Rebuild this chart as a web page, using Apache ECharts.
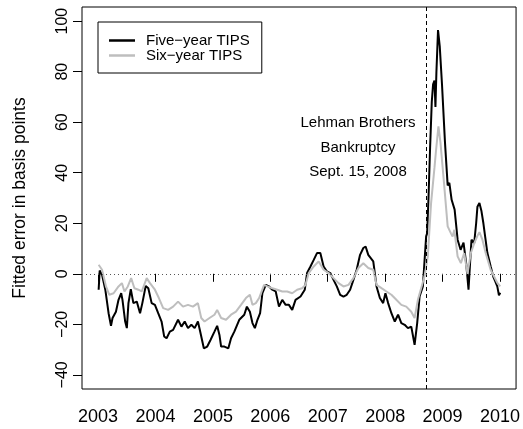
<!DOCTYPE html>
<html>
<head>
<meta charset="utf-8">
<script src="https://cdn.jsdelivr.net/npm/echarts@6/dist/echarts.min.js"></script>
<style>
  html, body { margin: 0; padding: 0; background: #fff; }
  #chart { width: 523px; height: 429px; }
</style>
</head>
<body>
<div id="chart"></div>
<script>
// dates are decimal years
var fiveYearDates = [
  2003.010, 2003.028, 2003.069, 2003.126, 2003.183, 2003.225, 2003.252, 2003.311, 2003.356, 2003.403,
  2003.425, 2003.472, 2003.501, 2003.529, 2003.570, 2003.615, 2003.674, 2003.731, 2003.771, 2003.830,
  2003.875, 2003.933, 2003.990, 2004.047, 2004.106, 2004.151, 2004.193, 2004.250, 2004.307, 2004.393,
  2004.452, 2004.509, 2004.566, 2004.625, 2004.682, 2004.739, 2004.785, 2004.842, 2004.901, 2004.958,
  2005.027, 2005.074, 2005.114, 2005.143, 2005.200, 2005.269, 2005.316, 2005.373, 2005.459, 2005.546,
  2005.592, 2005.644, 2005.689, 2005.731, 2005.776, 2005.822, 2005.862, 2005.921, 2005.978, 2006.035,
  2006.094, 2006.151, 2006.208, 2006.267, 2006.324, 2006.381, 2006.439, 2006.526, 2006.600, 2006.640,
  2006.699, 2006.756, 2006.813, 2006.871, 2006.928, 2006.986, 2007.044, 2007.101, 2007.158, 2007.217,
  2007.274, 2007.331, 2007.390, 2007.447, 2007.504, 2007.563, 2007.620, 2007.660, 2007.706, 2007.793,
  2007.850, 2007.908, 2007.965, 2008.005, 2008.052, 2008.109, 2008.168, 2008.225, 2008.282, 2008.340,
  2008.397, 2008.455, 2008.513, 2008.558, 2008.600, 2008.657, 2008.714, 2008.731, 2008.755, 2008.783,
  2008.812, 2008.835, 2008.859, 2008.876, 2008.893, 2008.921, 2008.951, 2008.990, 2009.042, 2009.089,
  2009.118, 2009.158, 2009.210, 2009.262, 2009.314, 2009.365, 2009.412, 2009.452, 2009.481, 2009.504,
  2009.550, 2009.585, 2009.607, 2009.642, 2009.676, 2009.711, 2009.746, 2009.780, 2009.837, 2009.884,
  2009.918, 2009.953, 2009.982, 2010.005
]
var fiveYearValues = [
  -6.3, 1.3, -0.4, -6.3, -15.6, -20.6, -17.5, -15, -10.3, -7.7,
  -10.3, -18.9, -21.5, -11.6, -6.1, -11.6, -11, -15.6, -11.6, -4.8,
  -5.7, -11.6, -12.3, -15.6, -18.9, -24.8, -25.5, -22.9, -22.2, -18.2,
  -20.9, -18.9, -21.5, -20.2, -21.5, -18.9, -23.5, -29.5, -28.8, -26.2,
  -22.9, -20.6, -24.2, -28.8, -28.8, -29.5, -25.5, -22.9, -18.2, -16.2,
  -13, -15, -19.5, -21.5, -18.2, -15.6, -7.7, -4.4, -5, -6.3,
  -7, -13, -10.3, -12.3, -12.3, -14.3, -10.3, -9, -6.3, 0.3,
  2.9, 5.5, 8.2, 8.2, 2.9, 0.9, 0.3, -2.4, -5, -8.3,
  -9, -8.3, -6.3, -2.4, 1.6, 7.5, 10.2, 10.8, 7.5, 4.9,
  -5, -9.6, -11.6, -7.7, -11.6, -15.6, -18.9, -16.2, -19.5, -20.2,
  -21.5, -20.9, -28.1, -19.5, -9, -5, 14.8, 16, 30, 50,
  68, 75, 76.5, 66, 80, 96.5, 90, 75, 52, 35,
  36, 29.3, 25.4, 13.5, 9.5, 12.3, 4, -6.3, 5, 13.5,
  12, 20, 26.5, 28, 25, 20, 14, 8.3, 3, -1.2,
  -3, -5, -8.5, -7.5
]

var sixYearDates = [
  2003.010, 2003.069, 2003.138, 2003.195, 2003.270, 2003.356, 2003.415, 2003.460, 2003.518, 2003.576,
  2003.633, 2003.702, 2003.760, 2003.847, 2003.904, 2003.990, 2004.059, 2004.134, 2004.220, 2004.307,
  2004.393, 2004.479, 2004.566, 2004.652, 2004.739, 2004.797, 2004.854, 2004.941, 2005.027, 2005.074,
  2005.143, 2005.229, 2005.316, 2005.402, 2005.489, 2005.575, 2005.644, 2005.689, 2005.748, 2005.805,
  2005.891, 2005.949, 2006.035, 2006.121, 2006.208, 2006.294, 2006.381, 2006.467, 2006.553, 2006.612,
  2006.669, 2006.756, 2006.842, 2006.928, 2007.015, 2007.101, 2007.188, 2007.274, 2007.361, 2007.447,
  2007.534, 2007.620, 2007.706, 2007.793, 2007.850, 2007.936, 2008.023, 2008.109, 2008.195, 2008.282,
  2008.368, 2008.455, 2008.513, 2008.570, 2008.627, 2008.686, 2008.743, 2008.800, 2008.859, 2008.887,
  2008.928, 2008.963, 2009.020, 2009.089, 2009.146, 2009.175, 2009.205, 2009.262, 2009.319, 2009.377,
  2009.434, 2009.492, 2009.550, 2009.607, 2009.642, 2009.694, 2009.751, 2009.837, 2009.896, 2009.953,
  2010.005
]
var sixYearValues = [
  3.6, 1.6, -5, -8.3, -7.7, -5, -3.7, -7, -5, -1.7,
  -5.7, -6.3, -7, -1.7, -3.7, -6.3, -9.6, -13.6, -14.3, -13,
  -11, -13, -12.3, -13, -11.6, -17.5, -18.9, -17.5, -16.2, -14.3,
  -17.5, -18.2, -16.2, -15, -12.3, -9.6, -8.3, -12.3, -11.6, -9.6,
  -4.4, -5, -5.7, -6.3, -7, -7, -7.7, -6.3, -5.7, -4.4,
  0.3, 2.9, 4.9, 1.6, 0.3, -1.7, -3.7, -5, -4.4, -1.7,
  2.3, 4.2, 2.3, 1.6, -4.4, -5.7, -7, -8.3, -10.3, -12.3,
  -13, -15, -17.5, -10.3, -5.7, -1, 6.9, 28, 42, 49,
  58.4, 52, 37.3, 18.8, 16, 14.8, 17.4, 6.9, 4.2, 8.2,
  0, 8.2, 12, 15, 16.5, 13.5, 8.2, 1.6, -1, -3.6,
  -5
]

var yearTicks = [2003, 2004, 2005, 2006, 2007, 2008, 2009, 2010]
var errorTicks = [-40, -20, 0, 20, 40, 60, 80, 100]
var lehmanDate = 2008.707
var seriesNames = ['Five\u2212year TIPS', 'Six\u2212year TIPS']
var annotationLines = ['Lehman Brothers', 'Bankruptcy', 'Sept. 15, 2008']

var FONT = 'Liberation Sans, Arial, Helvetica, sans-serif'

var chart = echarts.init(document.getElementById('chart'), null, { renderer: 'canvas' })

var toPairs = (dates, values) => dates.map((d, i) => [d, values[i]])

var option = {
  animation: false,
  backgroundColor: '#fff',
  textStyle: { fontFamily: FONT, color: '#000' },
  grid: {
    left: 82, right: 5, top: 7, bottom: 40,
    show: true, borderColor: '#000', borderWidth: 1, backgroundColor: 'transparent'
  },
  legend: {
    left: 98, top: 22,
    orient: 'vertical',
    padding: [11, 12, 10, 11],
    itemGap: 0,
    itemWidth: 26,
    itemHeight: 2.5,
    icon: 'rect',
    borderColor: '#000',
    borderWidth: 1,
    borderRadius: 0,
    textStyle: { fontFamily: FONT, fontSize: 15, color: '#000', lineHeight: 14, padding: [0, 0, 0, 6] },
    data: seriesNames
  },
  xAxis: {
    type: 'value',
    min: 2002.72,
    max: 2010.28,
    axisLine: { show: false },
    splitLine: { show: false },
    axisTick: { show: true, length: 8, lineStyle: { color: '#000' }, customValues: yearTicks },
    axisLabel: {
      customValues: yearTicks,
      fontSize: 18, color: '#000', fontFamily: FONT, margin: 19,
      formatter: (v) => String(v)
    }
  },
  yAxis: {
    type: 'value',
    min: -45.6,
    max: 105.6,
    name: 'Fitted error in basis points',
    nameLocation: 'middle',
    nameRotate: 90,
    nameGap: 53,
    nameTextStyle: { fontSize: 17.5, color: '#000', fontFamily: FONT },
    axisLine: { show: false },
    splitLine: { show: false },
    axisTick: { show: true, length: 9, lineStyle: { color: '#000' }, customValues: errorTicks },
    axisLabel: {
      customValues: errorTicks,
      rotate: 90,
      fontSize: 16, color: '#000', fontFamily: FONT, margin: 11,
      formatter: (v) => String(v).replace('-', '\u2212')
    }
  },
  series: [
    {
      name: seriesNames[0],
      type: 'line',
      data: toPairs(fiveYearDates, fiveYearValues),
      showSymbol: false,
      color: '#000',
      lineStyle: { color: '#000', width: 2 },
      markLine: {
        silent: true,
        symbol: 'none',
        label: { show: false },
        data: [
          { xAxis: lehmanDate, lineStyle: { color: '#000', width: 1, type: [4, 3] } },
          { yAxis: 0, lineStyle: { color: '#555', width: 1, type: [1, 3] } }
        ]
      }
    },
    {
      name: seriesNames[1],
      type: 'line',
      data: toPairs(sixYearDates, sixYearValues),
      showSymbol: false,
      color: '#bebebe',
      lineStyle: { color: '#bebebe', width: 2 }
    }
  ],
  graphic: [
    {
      type: 'text',
      x: 358,
      y: 111,
      style: {
        text: annotationLines.join('\n'),
        fill: '#000',
        font: '15px ' + FONT,
        textAlign: 'center',
        textVerticalAlign: 'top',
        lineHeight: 24.5
      }
    }
  ]
}

chart.setOption(option)
</script>
</body>
</html>
